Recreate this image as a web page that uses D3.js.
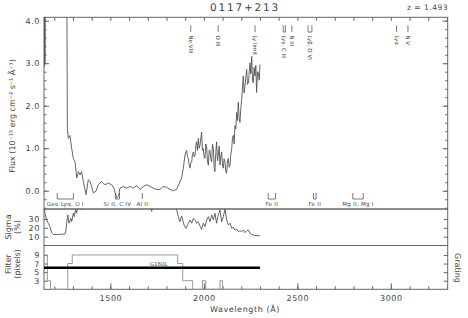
<!DOCTYPE html>
<html>
<head>
<meta charset="utf-8">
<script src="https://cdn.jsdelivr.net/npm/d3@7"></script>
<style>
  body { margin: 0; background: #fff; }
  text { font-family: "DejaVu Sans", sans-serif; fill: #444; text-rendering: geometricPrecision; -webkit-font-smoothing: antialiased; }
</style>
</head>
<body>
<script>
// redshift of the quasar
var z = 1.493;

// flux spectrum (Angstrom, 1e-15 erg/cm2/s/A)
var fluxWave = [1146, 1147, 1148, 1149, 1150, 1152, 1200, 1216, 1240, 1266,
  1270, 1275, 1284, 1293, 1302, 1311, 1320, 1329, 1338, 1346, 1355, 1370, 1382,
  1391, 1400, 1409, 1423, 1436, 1453, 1471, 1489, 1507, 1519, 1534, 1544, 1551,
  1569, 1587, 1605, 1623, 1641, 1658, 1676, 1694, 1712, 1730, 1748, 1765, 1783,
  1801, 1819, 1837, 1854, 1869, 1881, 1890, 1899, 1908, 1912, 1917, 1921, 1926,
  1930, 1935, 1939, 1944, 1948, 1953, 1957, 1961, 1966, 1970, 1975, 1979, 1984,
  1988, 1992, 1997, 2001, 2006, 2010, 2015, 2019, 2024, 2028, 2033, 2037, 2042,
  2046, 2051, 2055, 2059, 2064, 2068, 2073, 2077, 2082, 2086, 2091, 2095, 2100,
  2104, 2108, 2113, 2117, 2122, 2126, 2131, 2135, 2140, 2144, 2149, 2153, 2158,
  2162, 2166, 2171, 2175, 2180, 2184, 2189, 2193, 2198, 2202, 2206, 2211, 2215,
  2220, 2224, 2229, 2233, 2238, 2242, 2247, 2251, 2256, 2260, 2264, 2269, 2273,
  2278, 2282, 2287, 2291, 2296, 2300];
var fluxVal = [2.9, 4.6, 3.1, 4.4, 3.0, 6, 9, 20, 9, 6,
  1.46, 1.23, 1.3, 0.99, 0.76, 0.68, 0.30, 0.45, 0.37, 0.45, 0.22, -0.09, 0.26,
  0.22, 0.10, -0.05, -0.01, 0.14, 0.22, 0.14, 0.18, 0.14, 0.06, -0.17, -0.13, 0.06,
  0.10, 0.06, 0.10, 0.06, 0.12, 0.03, 0.10, 0.14, 0.10, 0.06, 0.03, 0.03, 0.10,
  0.08, 0.03, 0.00, 0.03, 0.18, 0.30, 0.53, 0.84, 0.95, 0.80, 0.76, 0.62, 0.53,
  0.65, 0.68, 0.85, 0.91, 0.80, 0.84, 1.05, 1.15, 0.95, 1.23, 1.00, 1.07, 1.25,
  1.38, 0.95, 0.99, 0.80, 0.76, 1.10, 1.03, 0.70, 0.60, 0.95, 0.95, 0.75, 0.68,
  1.10, 0.99, 0.55, 0.45, 0.90, 1.15, 0.70, 0.84, 1.05, 0.60, 0.82, 0.91, 0.58,
  0.53, 0.75, 0.68, 0.45, 0.41, 0.70, 0.76, 0.55, 0.60, 0.85, 0.99, 1.25, 1.30,
  1.10, 1.53, 1.45, 1.84, 1.65, 2.08, 1.70, 1.61, 1.95, 2.15, 2.40, 2.70, 2.30,
  2.46, 2.65, 2.85, 2.50, 2.54, 2.75, 3.01, 2.75, 3.16, 2.60, 2.54, 2.90, 2.70,
  2.95, 2.31, 2.80, 2.77, 2.60, 2.97];

// sigma (%)
var sigmaWave = [1146, 1150, 1159, 1168, 1177, 1186, 1195, 1213, 1231, 1248, 1257,
  1263, 1266, 1272, 1279, 1288, 1293, 1302, 1307, 1314, 1320, 1325, 1340, 1346,
  1352, 1715, 1721, 1727, 1850, 1854, 1863, 1872, 1881, 1894, 1904, 1917, 1926,
  1935, 1944, 1953, 1961, 1970, 1979, 1988, 1997, 2006, 2015, 2024, 2033, 2042,
  2051, 2059, 2068, 2077, 2086, 2095, 2104, 2113, 2122, 2131, 2140, 2149, 2158,
  2166, 2175, 2184, 2193, 2202, 2211, 2220, 2229, 2238, 2247, 2256, 2273, 2300];
var sigmaVal = [45, 36.4, 28.8, 25.1, 21.3, 14.5, 12.6, 12.4, 12.6, 12.8, 13.0,
  17.5, 25.1, 34.5, 25.1, 30.7, 26.9, 36.4, 32.6, 40.1, 36.4, 45, 50, 40.0,
  50, 50, 38.5, 50, 50, 40.9, 32.6, 26.9, 33.3, 23.2, 19.4, 25.1, 28.8,
  25.1, 30.7, 28.8, 25.1, 26.9, 22.0, 18.3, 25.1, 21.3, 28.8, 32.6, 26.9, 34.5,
  28.8, 36.4, 25.1, 34.5, 40.1, 26.9, 32.6, 40.9, 28.8, 23.2, 25.1, 19.4, 20.5,
  17.5, 18.3, 15.6, 16.7, 15.6, 17.5, 14.5, 16.7, 17.5, 13.7, 12.6, 11.1, 11.1];

// filter width (pixels), step changes
var filterWave = [1145, 1163, 1180, 1272, 1296, 1860, 1887, 1940, 1992, 2010, 2086, 2100, 2300];
var filterVal = [9, 3, 1, 7, 9, 7, 3, 1, 3, 1, 3, 1, 1];

// grating coverage
var gratingName = "G160L";
var gratingWave = [1145, 2300];
var gratingVal = 6;

// emission lines (rest wavelength) and galactic absorption (observed)
var emitRest = [[774], [833], [912], [972.5, 977], [991], [1025.7, 1034], [1215.7], [1240]];
var emitLabel = ["Ne VIII", "O III", "Ly limit", "Lyγ, C III", "N III", "Lyβ, O VI", "Lyα", "N V"];
var absWave = [[1215.7, 1302.2], [1526.7, 1549], [1670.8], [2344.2, 2382.8], [2586.7, 2600.2], [2796.4, 2852]];
var absLabel = ["Geo Lyα, O I", "Si II, C IV", "Al II", "Fe II", "Fe II", "Mg II, Mg I"];

// ticks
var xTicks = [1500, 2000, 2500, 3000];
var fluxTicks = [0, 1, 2, 3, 4];
var sigmaTicks = [10, 20, 30];
var filterTicks = [3, 5, 7, 9];

var W = 468, H = 318;
var left = 44, right = 447.7;
var topF = 17.3, botF = 209, botS = 245.5, botP = 289.3;

var svg = d3.select("body").append("svg")
  .attr("width", W).attr("height", H);

var x = d3.scaleLinear().domain([1145, 3304]).range([left, right]);
var yF = d3.scaleLinear().domain([-0.43, 4.08]).range([botF, topF]);
var yS = d3.scaleLinear().domain([0, 41.2]).range([botS, botF]);
var yP = d3.scaleLinear().domain([1, 11.2]).range([botP, botS]);

var axisCol = "#666";

// clip paths for each panel
var defs = svg.append("defs");
[["cf", topF, botF], ["cs", botF, botS], ["cp", botS, botP]].forEach(function(c) {
  defs.append("clipPath").attr("id", c[0]).append("rect")
    .attr("x", left).attr("y", c[1]).attr("width", right - left).attr("height", c[2] - c[1]);
});

// ---- axes ----
function styleAxis(g) {
  g.select(".domain").remove();
  g.selectAll("line").attr("stroke", axisCol);
  g.selectAll("text").attr("font-size", 8).attr("fill", "#444")
    .style("font-family", "DejaVu Sans, sans-serif").attr("letter-spacing", 0.6);
}

// x ticks on top and bottom
var minorX = d3.range(1200, 3301, 100);
svg.append("g").attr("transform", "translate(0," + topF + ")")
  .call(d3.axisTop(x).tickValues(minorX).tickSize(-3.5).tickFormat(""))
  .call(styleAxis);
svg.append("g").attr("transform", "translate(0," + botP + ")")
  .call(d3.axisBottom(x).tickValues(minorX).tickSize(-3).tickFormat(""))
  .call(styleAxis);
svg.append("g").attr("transform", "translate(0," + botP + ")")
  .call(d3.axisBottom(x).tickValues(xTicks).tickSize(-6).tickPadding(6).tickFormat(d3.format("d")))
  .call(styleAxis);

// flux y axis
var minorF = d3.range(-0.4, 4.01, 0.2);
svg.append("g").attr("transform", "translate(" + left + ",0)")
  .call(d3.axisLeft(yF).tickValues(minorF).tickSize(-2.5).tickFormat(""))
  .call(styleAxis);
svg.append("g").attr("transform", "translate(" + left + ",0)")
  .call(d3.axisLeft(yF).tickValues(fluxTicks).tickSize(-5).tickPadding(4).tickFormat(d3.format(".1f")))
  .call(styleAxis);
svg.append("g").attr("transform", "translate(" + right + ",0)")
  .call(d3.axisRight(yF).tickValues(minorF).tickSize(-2.5).tickFormat(""))
  .call(styleAxis);
svg.append("g").attr("transform", "translate(" + right + ",0)")
  .call(d3.axisRight(yF).tickValues(fluxTicks).tickSize(-5).tickFormat(""))
  .call(styleAxis);

// sigma y axis
svg.append("g").attr("transform", "translate(" + left + ",0)")
  .call(d3.axisLeft(yS).tickValues(sigmaTicks).tickSize(-4).tickPadding(4).tickFormat(d3.format("d")))
  .call(styleAxis);
svg.append("g").attr("transform", "translate(" + right + ",0)")
  .call(d3.axisRight(yS).tickValues(sigmaTicks).tickSize(-4).tickFormat(""))
  .call(styleAxis);

// filter y axis
svg.append("g").attr("transform", "translate(" + left + ",0)")
  .call(d3.axisLeft(yP).tickValues(filterTicks).tickSize(-4).tickPadding(4).tickFormat(d3.format("d")))
  .call(styleAxis);
svg.append("g").attr("transform", "translate(" + right + ",0)")
  .call(d3.axisRight(yP).tickValues(filterTicks).tickSize(-4).tickFormat(""))
  .call(styleAxis);

// panel frames
[[topF, botF], [botF, botS], [botS, botP]].forEach(function(p) {
  svg.append("rect").attr("x", left).attr("y", p[0])
    .attr("width", right - left).attr("height", p[1] - p[0])
    .attr("fill", "none").attr("stroke", axisCol).attr("stroke-width", 1);
});

// ---- data lines ----
var fluxLine = d3.line().x(function(d, i) { return x(fluxWave[i]); }).y(function(d) { return yF(d); });
svg.append("path").datum(fluxVal)
  .attr("clip-path", "url(#cf)")
  .attr("d", fluxLine)
  .attr("fill", "none").attr("stroke", "#555").attr("stroke-width", 0.9);

var sigmaLine = d3.line().x(function(d, i) { return x(sigmaWave[i]); }).y(function(d) { return yS(d); });
svg.append("path").datum(sigmaVal)
  .attr("clip-path", "url(#cs)")
  .attr("d", sigmaLine)
  .attr("fill", "none").attr("stroke", "#555").attr("stroke-width", 0.9);

var filterLine = d3.line().curve(d3.curveStepAfter)
  .x(function(d, i) { return x(filterWave[i]); }).y(function(d) { return yP(d); });
svg.append("path").datum(filterVal)
  .attr("d", filterLine)
  .attr("fill", "none").attr("stroke", "#999").attr("stroke-width", 1);

// grating bar
svg.append("line")
  .attr("x1", x(gratingWave[0])).attr("x2", x(gratingWave[1]))
  .attr("y1", yP(gratingVal)).attr("y2", yP(gratingVal))
  .attr("stroke", "#000").attr("stroke-width", 2.5);
svg.append("text")
  .attr("x", x(1180) + 108).attr("y", yP(gratingVal) - 2)
  .attr("text-anchor", "middle").attr("font-size", 5.5)
  .text(gratingName);

// ---- line markers ----
var emit = svg.append("g").attr("stroke", "#555").attr("stroke-width", 0.8);
emitRest.forEach(function(rs, i) {
  var xs = rs.map(function(r) { return x(r * (1 + z)); });
  xs.forEach(function(px) {
    emit.append("line").attr("x1", px).attr("x2", px).attr("y1", 25.3).attr("y2", 32);
  });
  if (xs.length > 1) {
    emit.append("line").attr("x1", d3.min(xs)).attr("x2", d3.max(xs)).attr("y1", 32).attr("y2", 32);
  }
  var cx = d3.mean(xs);
  svg.append("text")
    .attr("transform", "translate(" + cx + ",35.5) rotate(90)")
    .attr("dy", "0.35em").attr("font-size", 5.5)
    .text(emitLabel[i]);
});

var abs = svg.append("g").attr("stroke", "#555").attr("stroke-width", 0.8);
absWave.forEach(function(ws, i) {
  var xs = ws.map(function(w) { return x(w); });
  xs.forEach(function(px) {
    abs.append("line").attr("x1", px).attr("x2", px).attr("y1", 193).attr("y2", 199);
  });
  if (xs.length > 1) {
    abs.append("line").attr("x1", d3.min(xs)).attr("x2", d3.max(xs)).attr("y1", 199).attr("y2", 199);
  }
  svg.append("text")
    .attr("x", d3.mean(xs)).attr("y", 206)
    .attr("text-anchor", "middle").attr("font-size", 5.5).attr("letter-spacing", 0.3)
    .text(absLabel[i]);
});

// ---- titles and labels ----
svg.append("text").attr("x", 245).attr("y", 11)
  .attr("text-anchor", "middle").attr("font-size", 10.5).attr("letter-spacing", 1.8)
  .text("0117+213");
svg.append("text").attr("x", 448).attr("y", 10)
  .attr("text-anchor", "end").attr("font-size", 7.5).attr("letter-spacing", 0.5)
  .text("z = " + z);
svg.append("text").attr("x", 245).attr("y", 312)
  .attr("text-anchor", "middle").attr("font-size", 8).attr("letter-spacing", 0.6)
  .text("Wavelength (Å)");

svg.append("text")
  .attr("transform", "translate(12," + 116 + ") rotate(-90)")
  .attr("text-anchor", "middle").attr("dy", "0.35em").attr("font-size", 8)
  .text("Flux (10⁻¹⁵ erg cm⁻² s⁻¹ Å⁻¹)");

[["Sigma", 8, 227], ["(%)", 17.5, 227], ["Filter", 8, 264], ["(pixels)", 17.5, 264]].forEach(function(t) {
  svg.append("text")
    .attr("transform", "translate(" + t[1] + "," + t[2] + ") rotate(-90)")
    .attr("text-anchor", "middle").attr("dy", "0.35em").attr("font-size", 8)
    .text(t[0]);
});
svg.append("text")
  .attr("transform", "translate(458,268) rotate(90)")
  .attr("text-anchor", "middle").attr("dy", "0.35em").attr("font-size", 8)
  .text("Grating");
</script>
</body>
</html>
